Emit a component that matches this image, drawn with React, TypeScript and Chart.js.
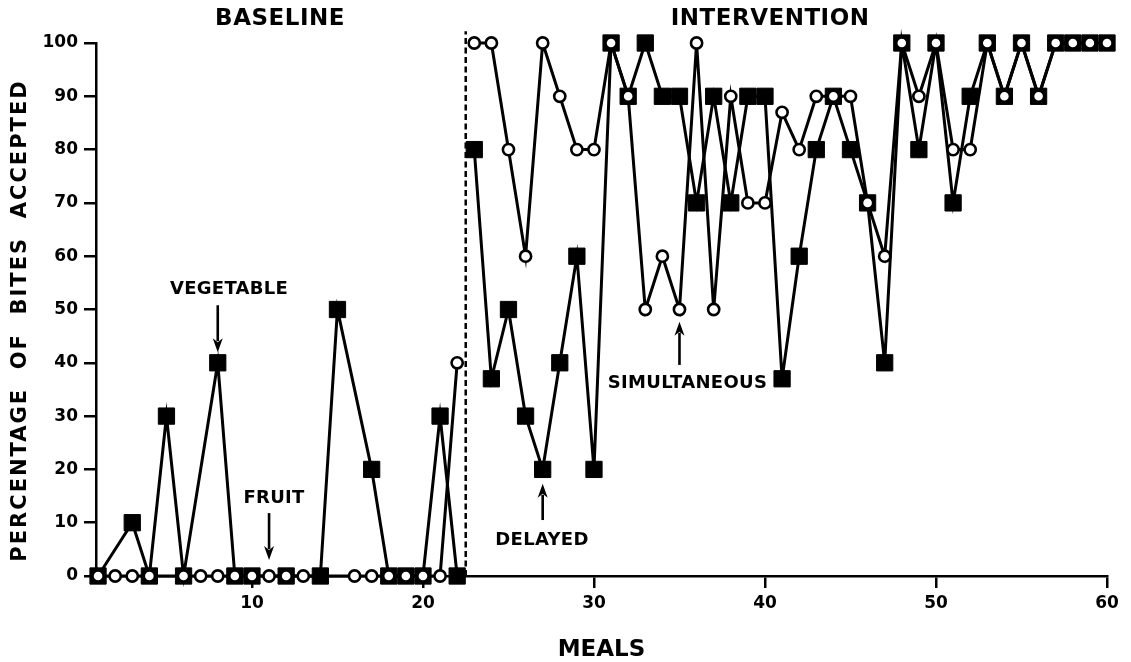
import React, { useEffect, useRef } from 'react';
import { Chart, registerables } from 'chart.js';

Chart.register(...registerables);

// ---- data ----
const meals = [
  1, 2, 3, 4, 5, 6, 7, 8, 9, 10, 11, 12, 13, 14, 15, 16, 17, 18, 19, 20,
  21, 22, 23, 24, 25, 26, 27, 28, 29, 30, 31, 32, 33, 34, 35, 36, 37, 38, 39, 40,
  41, 42, 43, 44, 45, 46, 47, 48, 49, 50, 51, 52, 53, 54, 55, 56, 57, 58, 59, 60,
];

// filled squares (vegetable / delayed)
const squareValues: (number | null)[] = [
  0, null, 10, 0, 30, 0, null, 40, 0, 0, null, 0, null, 0, 50, null, 20, 0, 0, 0,
  30, 0, 80, 37, 50, 30, 20, 40, 60, 20, 100, 90, 100, 90, 90, 70, 90, 70, 90, 90,
  37, 60, 80, 90, 80, 70, 40, 100, 80, 100, 70, 90, 100, 90, 100, 90, 100, 100, 100, 100,
];

// open circles (fruit / simultaneous)
const circleValues: (number | null)[] = [
  0, 0, 0, 0, null, 0, 0, 0, 0, 0, 0, 0, 0, null, null, 0, 0, 0, 0, 0,
  0, 40, 100, 100, 80, 60, 100, 90, 80, 80, 100, 90, 50, 60, 50, 100, 50, 90, 70, 70,
  87, 80, 90, 90, 90, 70, 60, 100, 90, 100, 80, 80, 100, 90, 100, 90, 100, 100, 100, 100,
];

const yTicks = [0, 10, 20, 30, 40, 50, 60, 70, 80, 90, 100];
const xTicks = [10, 20, 30, 40, 50, 60];
const xMin = 0.88;
const xMax = 60;

const phaseChange = 22.5;
const phaseLineTop = 102.2;
const phaseLabels = ['BASELINE', 'INTERVENTION'];
const phaseLabelX = [11.64, 40.3];
const phaseLabelY = 104.5;

const noteTexts = ['VEGETABLE', 'FRUIT', 'DELAYED', 'SIMULTANEOUS'];
const noteTextX = [8.66, 11.29, 26.96, 35.47];
const noteTextY = [53.7, 14.6, 6.75, 36.15];
const arrowX = [8, 11, 27, 35];
const arrowTailY = [50.8, 11.8, 10.5, 39.6];
const arrowTipY = [42.0, 3.0, 17.3, 47.7];

const xTitle = 'MEALS';
const yTitle = 'PERCENTAGE  OF  BITES  ACCEPTED';

const FONT = '"DejaVu Sans", "Liberation Sans", sans-serif';

export default function App() {
  const canvasRef = useRef<HTMLCanvasElement>(null);

  useEffect(() => {
    const canvas = canvasRef.current;
    if (!canvas) return;

    const annotationPlugin = {
      id: 'phaseAnnotations',
      beforeDraw(chart: any) {
        const { ctx, width, height } = chart;
        ctx.save();
        ctx.fillStyle = '#fff';
        ctx.fillRect(0, 0, width, height);
        ctx.restore();
      },
      beforeDatasetsDraw(chart: any) {
        const { ctx } = chart;
        const x = chart.scales.x;
        const y = chart.scales.y;
        const px = x.getPixelForValue(phaseChange);
        ctx.save();
        ctx.strokeStyle = '#000';
        ctx.lineWidth = 2.5;
        ctx.setLineDash([6, 3.5]);
        ctx.beginPath();
        ctx.moveTo(px, y.getPixelForValue(0));
        ctx.lineTo(px, y.getPixelForValue(phaseLineTop));
        ctx.stroke();
        ctx.restore();
      },
      afterDatasetsDraw(chart: any) {
        const { ctx, chartArea } = chart;
        const x = chart.scales.x;
        const y = chart.scales.y;
        ctx.save();
        ctx.fillStyle = '#000';
        ctx.strokeStyle = '#000';
        ctx.textAlign = 'center';
        ctx.textBaseline = 'middle';

        // phase labels
        ctx.font = `bold 23px ${FONT}`;
        (ctx as any).letterSpacing = '0.5px';
        phaseLabels.forEach((t, i) => {
          ctx.fillText(t, x.getPixelForValue(phaseLabelX[i]), y.getPixelForValue(phaseLabelY));
        });

        // notes
        ctx.font = `bold 18px ${FONT}`;
        (ctx as any).letterSpacing = '0.3px';
        noteTexts.forEach((t, i) => {
          ctx.fillText(t, x.getPixelForValue(noteTextX[i]), y.getPixelForValue(noteTextY[i]));
        });

        // arrows
        (ctx as any).letterSpacing = '0px';
        arrowX.forEach((ax, i) => {
          const px = x.getPixelForValue(ax);
          const tail = y.getPixelForValue(arrowTailY[i]);
          const tip = y.getPixelForValue(arrowTipY[i]);
          const dir = tip > tail ? 1 : -1;
          const headLen = 14;
          const headHalf = 5;
          ctx.lineWidth = 2.6;
          ctx.beginPath();
          ctx.moveTo(px, tail);
          ctx.lineTo(px, tip - dir * (headLen - 3));
          ctx.stroke();
          ctx.beginPath();
          ctx.moveTo(px, tip);
          ctx.lineTo(px - headHalf, tip - dir * headLen);
          ctx.lineTo(px, tip - dir * (headLen - 4));
          ctx.lineTo(px + headHalf, tip - dir * headLen);
          ctx.closePath();
          ctx.fill();
        });

        // y axis title
        ctx.font = `bold 21px ${FONT}`;
        (ctx as any).letterSpacing = '2px';
        ctx.translate(chartArea.left - 75.5, (chartArea.top + chartArea.bottom) / 2 + 11);
        ctx.rotate(-Math.PI / 2);
        ctx.fillText(yTitle, 0, 0);
        ctx.restore();
      },
    };

    const crossesPhase = (c: any) =>
      c.p0.parsed.x < phaseChange && c.p1.parsed.x > phaseChange ? 'rgba(0,0,0,0)' : '#000';

    const chart = new Chart(canvas, {
      type: 'line',
      data: {
        datasets: [
          {
            label: 'Fruit / Simultaneous',
            data: meals.map((m, i) => ({ x: m, y: circleValues[i] })) as any,
            order: 0,
            borderColor: '#000',
            borderWidth: 3,
            pointStyle: 'circle',
            pointRadius: 5.6,
            pointBorderWidth: 2.6,
            pointBackgroundColor: '#fff',
            pointBorderColor: '#000',
            spanGaps: true,
            tension: 0,
            clip: false as any,
            segment: { borderColor: crossesPhase },
          },
          {
            label: 'Vegetable / Delayed',
            data: meals.map((m, i) => ({ x: m, y: squareValues[i] })) as any,
            order: 1,
            borderColor: '#000',
            borderWidth: 3,
            pointStyle: 'rect',
            pointRadius: 11.5,
            pointBorderWidth: 1,
            pointBackgroundColor: '#000',
            pointBorderColor: '#000',
            spanGaps: true,
            tension: 0,
            clip: false as any,
            segment: { borderColor: crossesPhase },
          },
        ],
      },
      options: {
        animation: false,
        responsive: false,
        devicePixelRatio: 1,
        layout: { padding: { top: 43, right: 24, left: 0, bottom: 0 } },
        plugins: {
          legend: { display: false },
          tooltip: { enabled: false },
        },
        events: [],
        scales: {
          x: {
            type: 'linear',
            min: xMin,
            max: xMax,
            afterBuildTicks: (scale: any) => {
              scale.ticks = xTicks.map((v) => ({ value: v }));
            },
            afterFit: (scale: any) => {
              scale.height = 86;
            },
            ticks: {
              color: '#000',
              font: { family: FONT, size: 17, weight: 'bold' },
              padding: 5,
              maxRotation: 0,
              autoSkip: false,
            },
            grid: {
              display: true,
              drawOnChartArea: false,
              drawTicks: true,
              tickLength: 12,
              color: '#000',
              lineWidth: 2.5,
            },
            border: { display: true, color: '#000', width: 2.5 },
            title: {
              display: true,
              text: xTitle,
              color: '#000',
              font: { family: FONT, size: 23, weight: 'bold', lineHeight: 1 },
              padding: { top: 0, bottom: 0 },
            },
          },
          y: {
            type: 'linear',
            min: 0,
            max: 100,
            afterBuildTicks: (scale: any) => {
              scale.ticks = yTicks.map((v) => ({ value: v }));
            },
            afterFit: (scale: any) => {
              scale.width = 96;
            },
            ticks: {
              color: '#000',
              font: { family: FONT, size: 17, weight: 'bold' },
              padding: 6,
              autoSkip: false,
            },
            grid: {
              display: true,
              drawOnChartArea: false,
              drawTicks: true,
              tickLength: 12,
              color: '#000',
              lineWidth: 2.5,
            },
            border: { display: true, color: '#000', width: 2.5 },
          },
        },
      },
      plugins: [annotationPlugin],
    } as any);

    return () => {
      chart.destroy();
    };
  }, []);

  return (
    <div
      style={{
        position: 'fixed',
        left: 0,
        top: 0,
        width: 1131,
        height: 662,
        background: '#fff',
      }}
    >
      <canvas ref={canvasRef} width={1131} height={662} style={{ display: 'block' }} />
    </div>
  );
}
